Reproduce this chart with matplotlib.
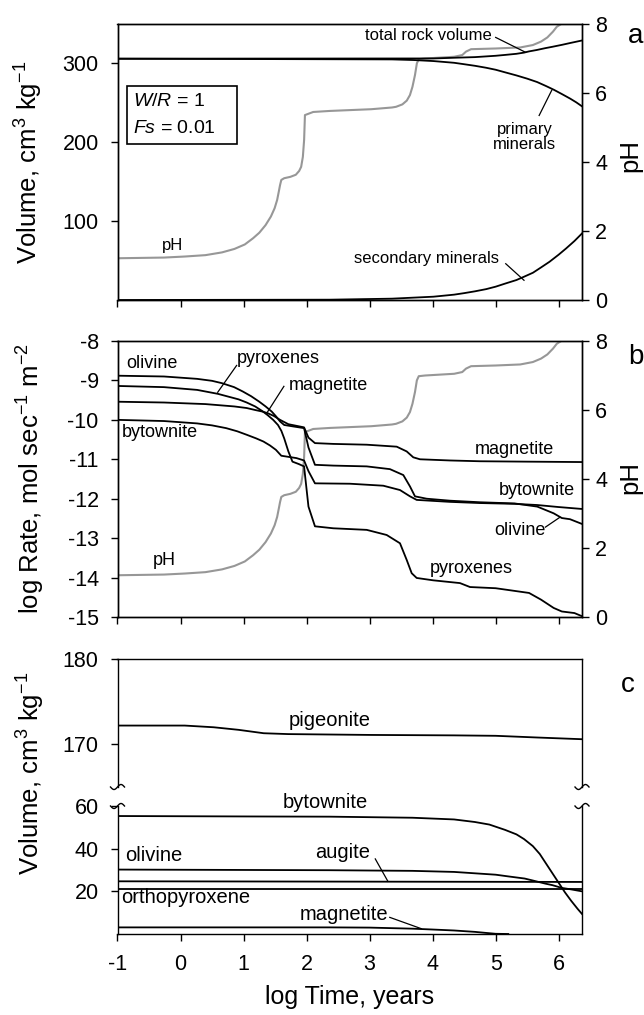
import numpy as np
import matplotlib
matplotlib.use('Agg')
import matplotlib.pyplot as plt
from matplotlib.patches import Rectangle

matplotlib.rcParams['font.family'] = 'sans-serif'
matplotlib.rcParams['font.sans-serif'] = ['Liberation Sans', 'DejaVu Sans']
matplotlib.rcParams['mathtext.fontset'] = 'custom'
matplotlib.rcParams['mathtext.rm'] = 'Liberation Sans'
matplotlib.rcParams['mathtext.it'] = 'Liberation Sans:italic'
matplotlib.rcParams['axes.unicode_minus'] = False
matplotlib.rcParams['axes.linewidth'] = 1.0

# ---------------- data (log time, years) ----------------
# pH (same curve shown in panels a and b)
t_ph = [-1.0, -0.263, 0.066, 0.395, 0.658, 0.855, 1.020, 1.151, 1.250, 1.349, 1.434, 1.493,
        1.533, 1.559, 1.579, 1.599, 1.645, 1.743, 1.829, 1.882, 1.914, 1.941, 1.961, 1.974,
        2.105, 2.368, 3.026, 3.355, 3.42, 3.52, 3.59, 3.64, 3.68, 3.72, 3.75, 3.78, 3.88,
        4.342, 4.47, 4.53, 4.61, 5.0, 5.39, 5.59, 5.72, 5.82, 5.91, 5.97, 6.04, 6.37]
ph = [1.21, 1.23, 1.26, 1.30, 1.38, 1.48, 1.61, 1.79, 1.95, 2.17, 2.42, 2.66,
      2.90, 3.14, 3.33, 3.48, 3.53, 3.57, 3.63, 3.74, 3.86, 4.15, 4.64, 5.36,
      5.45, 5.48, 5.53, 5.58, 5.60, 5.67, 5.78, 5.94, 6.18, 6.52, 6.86, 6.98, 7.00,
      7.05, 7.10, 7.20, 7.27, 7.29, 7.32, 7.39, 7.49, 7.61, 7.78, 7.92, 8.0, 8.0]

# panel a: volumes, cm3/kg
t_total = [-1.0, 4.013, 4.342, 4.671, 5.0, 5.15, 5.329, 5.45, 5.526, 5.65, 5.789, 5.9, 6.053, 6.2, 6.37]
v_total = [306.0, 306.3, 307.2, 308.0, 309.7, 310.8, 312.2, 313.7, 315.2, 317.0, 319.4, 321.1, 323.6,
           326.2, 329.1]
t_primary = [-1.0, 3.355, 3.7, 4.013, 4.342, 4.5, 4.671, 4.85, 5.0, 5.15, 5.329, 5.5, 5.658, 5.8,
             5.921, 6.05, 6.184, 6.28, 6.37]
v_primary = [306.0, 305.1, 304.3, 303.0, 300.8, 299.0, 297.0, 294.5, 292.0, 288.7, 284.8, 280.7,
             276.4, 271.3, 266.7, 261.2, 255.3, 250.6, 245.6]
t_secondary = [-1.0, 2.368, 3.355, 4.013, 4.342, 4.5, 4.671, 4.85, 5.0, 5.15, 5.329, 5.45, 5.592,
               5.72, 5.855, 6.0, 6.118, 6.25, 6.37]
v_secondary = [0.0, 0.4, 1.7, 4.2, 6.8, 8.7, 11.0, 13.8, 16.9, 20.8, 25.3, 29.5, 34.6,
               41.3, 48.5, 57.5, 65.4, 74.8, 84.4]

# panel b: log rate, mol/s/m2
t_oli = [-1.0, -0.263, 0.263, 0.5, 0.658, 0.85, 0.987, 1.12, 1.25, 1.35, 1.447, 1.52, 1.579, 1.645,
         1.80, 1.96, 2.03, 2.133, 2.424, 2.954, 3.323, 3.535, 3.641, 3.720, 3.906, 4.275, 4.751,
         5.3, 5.66, 5.92, 6.05, 6.18, 6.37]
r_oli = [-8.88, -8.90, -8.96, -9.01, -9.07, -9.17, -9.28, -9.40, -9.54, -9.66, -9.79, -9.92, -10.04,
         -10.13, -10.17, -10.21, -10.7, -11.14, -11.16, -11.18, -11.25, -11.40, -11.69, -11.94, -12.00,
         -12.05, -12.09, -12.12, -12.2, -12.37, -12.49, -12.52, -12.64]
t_mag = [-1.0, -0.263, 0.395, 0.855, 1.05, 1.184, 1.30, 1.382, 1.48, 1.579, 1.711, 1.96, 2.03, 2.133,
         2.424, 2.954, 3.430, 3.588, 3.693, 3.799, 4.275, 4.751, 5.5, 6.37]
r_mag = [-9.54, -9.56, -9.60, -9.66, -9.70, -9.75, -9.79, -9.83, -9.90, -10.0, -10.11, -10.19, -10.45,
         -10.59, -10.61, -10.63, -10.68, -10.80, -10.95, -11.00, -11.03, -11.05, -11.06, -11.07]
t_byt = [-1.0, -0.263, 0.263, 0.5, 0.724, 0.9, 1.053, 1.2, 1.316, 1.42, 1.513, 1.599, 1.84, 1.96,
         2.03, 2.133, 2.689, 3.217, 3.482, 3.641, 3.747, 4.275, 4.751, 5.3, 5.66, 5.99, 6.37]
r_byt = [-10.0, -10.03, -10.09, -10.14, -10.21, -10.29, -10.38, -10.47, -10.55, -10.65, -10.76, -10.91,
         -10.97, -11.03, -11.3, -11.61, -11.62, -11.67, -11.78, -11.94, -12.03, -12.08, -12.11, -12.13,
         -12.16, -12.21, -12.26]
t_pyx = [-1.0, -0.263, 0.263, 0.592, 0.921, 1.05, 1.184, 1.30, 1.382, 1.47, 1.546, 1.60, 1.645, 1.711,
         1.776, 1.875, 1.96, 2.03, 2.133, 2.424, 2.954, 3.271, 3.482, 3.588, 3.668, 3.747, 4.010,
         4.434, 4.593, 5.0, 5.53, 5.72, 5.92, 6.05, 6.25, 6.37]
r_pyx = [-9.14, -9.17, -9.24, -9.34, -9.48, -9.56, -9.66, -9.78, -9.88, -10.0, -10.13, -10.28, -10.47,
         -10.80, -11.06, -11.12, -11.18, -12.2, -12.70, -12.75, -12.79, -12.92, -13.13, -13.55, -13.89,
         -14.01, -14.07, -14.14, -14.24, -14.27, -14.39, -14.56, -14.77, -14.86, -14.90, -14.98]

# panel c: mineral volumes, cm3/kg
t_pig = [-1.0, 0.066, 0.526, 0.92, 1.32, 1.71, 3.03, 4.34, 5.0, 5.66, 6.37]
v_pig = [172.2, 172.2, 172.0, 171.7, 171.3, 171.2, 171.1, 171.05, 171.0, 170.8, 170.6]
t_bytc = [-1.0, 1.05, 2.37, 3.68, 4.34, 4.67, 4.9, 5.0, 5.15, 5.33, 5.45, 5.59, 5.7, 5.8, 5.9,
          6.0, 6.1, 6.2, 6.3, 6.37]
v_bytc = [55.3, 55.1, 55.0, 54.5, 53.7, 52.5, 51.3, 50.3, 48.8, 46.7, 44.5, 41.2, 37.5, 33.0, 28.5,
          24.0, 19.5, 15.5, 11.8, 9.4]
t_olic = [-1.0, 2.37, 3.68, 4.34, 5.0, 5.2, 5.46, 5.6, 5.79, 5.9, 6.05, 6.2, 6.37]
v_olic = [30.2, 29.9, 29.6, 29.1, 27.8, 27.0, 26.0, 25.0, 23.6, 22.9, 21.6, 20.9, 20.0]
t_aug = [-1.0, 6.37]
v_aug = [24.7, 24.4]
t_opx = [-1.0, 6.37]
v_opx = [21.1, 21.1]
t_magc = [-1.0, 2.37, 3.0, 3.68, 4.0, 4.34, 4.67, 4.85, 5.0, 5.2]
v_magc = [3.1, 3.1, 3.0, 2.5, 2.1, 1.65, 1.0, 0.5, 0.1, 0.0]

XLIM = (-1, 6.37)
GRAY = '#979797'
LW = 1.3
W_PX, H_PX = 644, 1015
LEFT, RIGHT = 117.5, 582.0
TICK_FS = 15.5


def box(top, bottom):
    return [LEFT / W_PX, 1 - bottom / H_PX, (RIGHT - LEFT) / W_PX, (bottom - top) / H_PX]


def style(ax):
    ax.tick_params(direction='out', length=5, width=1, labelsize=TICK_FS)
    ax.tick_params(axis='y', which='both', pad=8.5)
    ax.tick_params(axis='x', pad=9.5)


def style_r(ax):
    ax.tick_params(direction='out', length=5, width=1, labelsize=TICK_FS, pad=4.5)


def leader(ax, x0, y0, x1, y1):
    ax.plot([x0, x1], [y0, y1], color='k', lw=0.9)


def wiggle(ax, xa, ya):
    # small "~" mark at the end of a broken spine
    xs = np.linspace(-7, 7, 40)
    ys = 2.5 * np.sin(np.pi * xs / 7)
    w = (RIGHT - LEFT)
    h = 128.0
    ax.plot(xa + xs / w, ya + ys / h, color='k', lw=1.0, transform=ax.transAxes, clip_on=False)


fig = plt.figure(figsize=(6.44, 10.15), dpi=100)

# ---------------- panel a ----------------
ax = fig.add_axes(box(24, 300))
axr = ax.twinx()
axr.plot(t_ph, ph, color=GRAY, lw=1.5)
ax.plot(t_total, v_total, color='k', lw=LW)
ax.plot(t_primary, v_primary, color='k', lw=LW)
ax.plot(t_secondary, v_secondary, color='k', lw=LW)
ax.set_zorder(axr.get_zorder() + 1)
ax.patch.set_visible(False)
ax.set_xlim(*XLIM)
ax.set_ylim(0, 350)
ax.set_yticks([100, 200, 300])
ax.set_xticks(range(-1, 7))
style(ax)
ax.tick_params(labelbottom=False)
axr.set_ylim(0, 8)
axr.set_yticks([0, 2, 4, 6, 8])
style_r(axr)
ax.text(3.93, 335.4, 'total rock volume', fontsize=12, ha='center', va='center')
leader(ax, 5.0, 333, 5.47, 314.3)
ax.text(5.46, 207, 'primary\nminerals', fontsize=12, ha='center', va='center', linespacing=1.0)
leader(ax, 5.69, 234, 5.89, 266)
ax.text(3.91, 52.7, 'secondary minerals', fontsize=12, ha='center', va='center')
leader(ax, 5.16, 46, 5.45, 25)
axr.text(-0.13, 1.59, 'pH', fontsize=12, ha='center', va='center')
ax.add_patch(Rectangle((0.0205, 0.5652), 0.2368, 0.2101, transform=ax.transAxes,
                       fill=False, ec='k', lw=1.2))
ax.text(0.0334, 0.7185, r'$W/R$ = 1', transform=ax.transAxes, fontsize=14, va='center')
ax.text(0.0334, 0.623, r'$Fs$ = 0.01', transform=ax.transAxes, fontsize=14, va='center')

fig.text(29 / W_PX, 1 - 162 / H_PX, 'Volume, cm$^3$ kg$^{-1}$', rotation=90,
         fontsize=18.5, ha='center', va='center')
fig.text(630 / W_PX, 1 - 155 / H_PX, 'pH', rotation=90, fontsize=18.5, ha='center', va='center')
fig.text(636 / W_PX, 1 - 36 / H_PX, 'a', fontsize=20, ha='center', va='center')

# ---------------- panel b ----------------
ax = fig.add_axes(box(341, 617))
axr = ax.twinx()
axr.plot(t_ph, ph, color=GRAY, lw=1.5)
for tt, rr in [(t_oli, r_oli), (t_mag, r_mag), (t_byt, r_byt), (t_pyx, r_pyx)]:
    ax.plot(tt, rr, color='k', lw=LW)
ax.set_zorder(axr.get_zorder() + 1)
ax.patch.set_visible(False)
ax.set_xlim(*XLIM)
ax.set_ylim(-15, -8)
ax.set_yticks(range(-15, -7))
ax.set_xticks(range(-1, 7))
style(ax)
ax.tick_params(labelbottom=False)
axr.set_ylim(0, 8)
axr.set_yticks([0, 2, 4, 6, 8])
style_r(axr)
fs_b = 13
ax.text(-0.46, -8.57, 'olivine', fontsize=fs_b, ha='center', va='center')
ax.text(1.546, -8.44, 'pyroxenes', fontsize=fs_b, ha='center', va='center')
leader(ax, 0.89, -8.62, 0.59, -9.30)
ax.text(2.34, -9.14, 'magnetite', fontsize=fs_b, ha='center', va='center')
leader(ax, 1.64, -9.15, 1.38, -9.80)
ax.text(-0.33, -10.31, 'bytownite', fontsize=fs_b, ha='center', va='center')
ax.text(5.30, -10.76, 'magnetite', fontsize=fs_b, ha='center', va='center')
ax.text(5.66, -11.79, 'bytownite', fontsize=fs_b, ha='center', va='center')
ax.text(5.39, -12.81, 'olivine', fontsize=fs_b, ha='center', va='center')
leader(ax, 5.79, -12.72, 6.02, -12.47)
ax.text(4.61, -13.78, 'pyroxenes', fontsize=fs_b, ha='center', va='center')
ax.text(-0.26, -13.57, 'pH', fontsize=fs_b, ha='center', va='center')

fig.text(31 / W_PX, 1 - 479 / H_PX, 'log Rate, mol sec$^{-1}$ m$^{-2}$', rotation=90,
         fontsize=18.5, ha='center', va='center')
fig.text(630 / W_PX, 1 - 478 / H_PX, 'pH', rotation=90, fontsize=18.5, ha='center', va='center')
fig.text(636 / W_PX, 1 - 357 / H_PX, 'b', fontsize=20, ha='center', va='center')

# ---------------- panel c (broken axis) ----------------
axu = fig.add_axes(box(659, 787))
axl = fig.add_axes(box(806, 934))
axu.plot(t_pig, v_pig, color='k', lw=LW)
for tt, vv in [(t_bytc, v_bytc), (t_olic, v_olic), (t_aug, v_aug), (t_opx, v_opx), (t_magc, v_magc)]:
    axl.plot(tt, vv, color='k', lw=LW)
for a in (axu, axl):
    a.set_xlim(*XLIM)
    style(a)
    a.tick_params(right=False)
axu.set_ylim(165, 180)
axu.set_yticks([170, 180])
axu.set_xticks([])
axu.spines['bottom'].set_visible(False)
axl.set_ylim(0, 60)
axl.set_yticks([20, 40, 60])
axl.set_xticks(range(-1, 7))
axl.spines['top'].set_visible(False)
for xa in (0, 1):
    wiggle(axu, xa, 0)
    wiggle(axl, xa, 1)

fs_c = 14.5
axu.text(2.37, 172.8, 'pigeonite', fontsize=fs_c, ha='center', va='center')
axl.text(2.30, 61.6, 'bytownite', fontsize=fs_c, ha='center', va='center', clip_on=False)
axl.text(-0.43, 36.8, 'olivine', fontsize=fs_c, ha='center', va='center')
axl.text(2.57, 38.0, 'augite', fontsize=fs_c, ha='center', va='center')
leader(axl, 3.09, 35.2, 3.29, 24.7)
axl.text(-0.95, 16.9, 'orthopyroxene', fontsize=fs_c, ha='left', va='center')
axl.text(2.6, 9.0, 'magnetite', fontsize=fs_c, ha='center', va='center')
leader(axl, 3.32, 7.8, 3.82, 2.5)

fig.text((LEFT + RIGHT) / 2 / W_PX, 1 - 997 / H_PX, 'log Time, years', fontsize=18,
         ha='center', va='center')
fig.text(31 / W_PX, 1 - 773 / H_PX, 'Volume, cm$^3$ kg$^{-1}$', rotation=90,
         fontsize=18.5, ha='center', va='center')
fig.text(628 / W_PX, 1 - 685 / H_PX, 'c', fontsize=20, ha='center', va='center')

fig.savefig('out.png', dpi=100)
